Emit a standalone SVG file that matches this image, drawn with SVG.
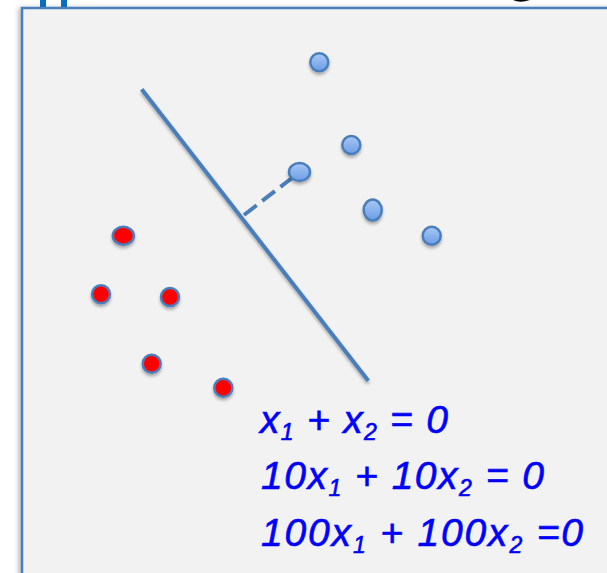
<svg xmlns="http://www.w3.org/2000/svg" width="607" height="573" viewBox="0 0 607 573">
  <defs>
    <linearGradient id="blueFill" x1="0" y1="0" x2="0" y2="1">
      <stop offset="0" stop-color="#a9c8f5"/>
      <stop offset="1" stop-color="#6a9de6"/>
    </linearGradient>
    <filter id="shadow" x="-50%" y="-50%" width="200%" height="200%">
      <feDropShadow dx="0" dy="2.5" stdDeviation="1.8" flood-color="#000" flood-opacity="0.3"/>
    </filter>
    <filter id="boxShadow" x="-5%" y="-5%" width="110%" height="110%">
      <feDropShadow dx="-2" dy="1" stdDeviation="2.5" flood-color="#000" flood-opacity="0.3"/>
    </filter>
  </defs>
  <style>
    .bdot { fill: url(#blueFill); stroke: #4a7ebb; stroke-width: 2.5; filter: url(#shadow); }
    .rdot { fill: #ff0000; stroke: #4a7ebb; stroke-width: 2.5; filter: url(#shadow); }
    .eq { font-family: "Liberation Sans", Arial, sans-serif; font-style: italic; fill: #0000ff; stroke: #0000ff; stroke-width: 0.6; font-size: 39px; }
    .sub { font-size: 23px; }
  </style>
  <rect x="0" y="0" width="607" height="573" fill="#ffffff"/>
  <g id="title-fragments">
    <rect x="40" y="0" width="6" height="7" fill="#0a6dc4"/>
    <rect x="61" y="0" width="6" height="7" fill="#0a6dc4"/>
    <path d="M513,0 Q520,3.5 530,0 Z" fill="#000"/>
  </g>
  <g id="panel">
    <rect x="22" y="8" width="600" height="580" fill="#f2f2f2" stroke="#4a7ebb" stroke-width="2.5" filter="url(#boxShadow)"/>
  </g>
  <g id="connectors">
    <line x1="141.7" y1="89.3" x2="368.3" y2="380.7" stroke="#4a7ebb" stroke-width="4" filter="url(#shadow)"/>
    <line x1="244" y1="215" x2="292" y2="178" stroke="#4a7ebb" stroke-width="4" stroke-dasharray="16,7"/>
  </g>
  <g id="blue-points">
    <circle id="b1" class="bdot" cx="319.3" cy="62.3" r="9"/>
    <circle id="b2" class="bdot" cx="351.3" cy="145" r="9"/>
    <ellipse id="b3" class="bdot" cx="299.5" cy="172" rx="10.5" ry="9"/>
    <ellipse id="b4" class="bdot" cx="372.7" cy="210" rx="9" ry="10.5"/>
    <circle id="b5" class="bdot" cx="431.7" cy="235.7" r="9"/>
  </g>
  <g id="red-points">
    <ellipse id="r1" class="rdot" cx="123.3" cy="235.7" rx="10.5" ry="9"/>
    <circle id="r2" class="rdot" cx="101" cy="294.3" r="9"/>
    <circle id="r3" class="rdot" cx="170" cy="297" r="9"/>
    <circle id="r4" class="rdot" cx="151.7" cy="363.7" r="9"/>
    <circle id="r5" class="rdot" cx="223.3" cy="387.7" r="9"/>
  </g>
  <g id="equations">
    <text class="eq" x="260" y="433" textLength="188" lengthAdjust="spacing">x<tspan class="sub" dy="7">1</tspan><tspan dy="-7"> + x</tspan><tspan class="sub" dy="7">2</tspan><tspan dy="-7"> = 0</tspan></text>
    <text class="eq" x="261" y="489" textLength="283" lengthAdjust="spacing">10x<tspan class="sub" dy="7">1</tspan><tspan dy="-7"> + 10x</tspan><tspan class="sub" dy="7">2</tspan><tspan dy="-7"> = 0</tspan></text>
    <text class="eq" x="261" y="546" textLength="322" lengthAdjust="spacing">100x<tspan class="sub" dy="7">1</tspan><tspan dy="-7"> + 100x</tspan><tspan class="sub" dy="7">2</tspan><tspan dy="-7"> =0</tspan></text>
  </g>
</svg>
